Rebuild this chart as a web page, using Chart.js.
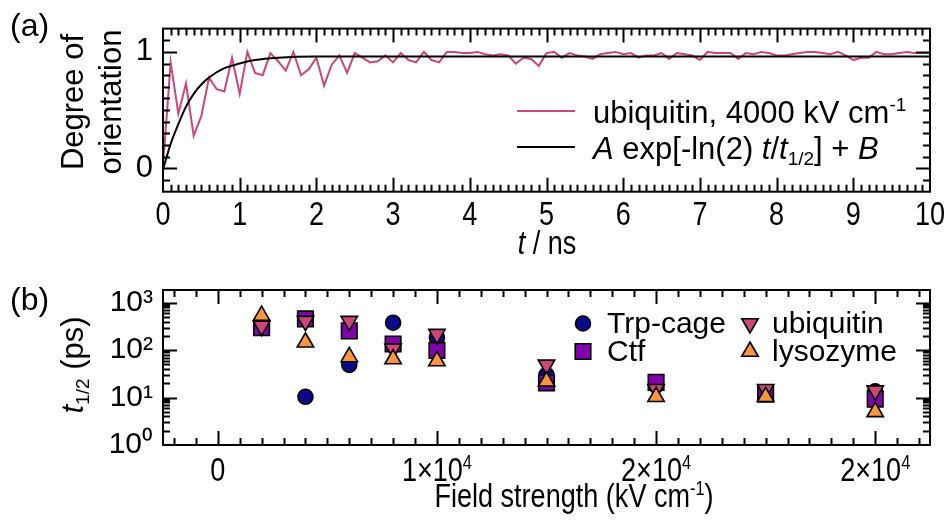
<!DOCTYPE html>
<html>
<head>
<meta charset="utf-8">
<script src="https://cdn.jsdelivr.net/npm/chart.js@4.4.0/dist/chart.umd.min.js"></script>
<style>
  body { margin: 0; background: #fff; }
  #fig { position: relative; width: 950px; height: 524px; }
  #fig canvas { position: absolute; left: 0; }
</style>
</head>
<body>
<div id="fig">
  <canvas id="panelA" width="950" height="262" style="top:0"></canvas>
  <canvas id="panelB" width="950" height="262" style="top:262px"></canvas>
</div>
<script>
// ---- (a) degree of orientation, one frame every 0.1 ns
const orientStep = 0.1;
const orientation = [
  0.02, 0.91, 0.47, 0.73, 0.28, 0.45, 0.78, 0.68, 0.66, 0.95,
  0.64, 1.00, 0.82, 0.80, 0.99, 0.92, 0.84, 1.00, 0.80, 0.85,
  0.95, 0.71, 0.89, 0.97, 0.82, 0.99, 0.95, 0.91, 0.92, 0.97,
  0.91, 0.99, 0.93, 0.91, 1.00, 0.93, 0.91, 1.00, 1.00, 0.99,
  0.99, 1.00, 0.98, 0.97, 0.98, 0.97, 0.90, 0.95, 0.94, 0.88,
  0.99, 1.00, 0.95, 0.99, 0.97, 0.96, 0.94, 0.98, 0.99, 1.00,
  0.98, 0.99, 0.95, 0.97, 0.97, 0.99, 0.94, 0.99, 0.98, 0.97,
  0.93, 1.00, 0.99, 0.99, 0.99, 0.94, 0.99, 0.98, 1.00, 0.99,
  0.97, 0.97, 0.98, 0.99, 1.00, 1.00, 0.99, 0.98, 1.00, 0.97,
  0.93, 0.95, 0.95, 1.00, 0.98, 0.98, 0.99, 1.00, 0.99, 0.99,
  0.99
];
// fitted curve
const fitTime  = [0, 0.1, 0.2, 0.3, 0.4, 0.5, 0.6, 0.8, 1.0, 1.2, 1.5, 2, 3, 10];
const fitValue = [-0.01, 0.21, 0.38, 0.53, 0.64, 0.72, 0.78, 0.86, 0.90, 0.93, 0.95, 0.96, 0.96, 0.96];

// ---- (b) half-life vs field strength
const fieldStrength = [2000, 4000, 6000, 8000, 10000, 15000, 20000, 25000, 30000];
const trpCage   = [null, 10.4, 49, 380, 186, 30, 18, 13, 13.5];
const ctf       = [297, 456, 255, 135, 99, 20.5, 21, 11.8, 9.3];
const ubiquitin = [323, 410, 410, 107, 218, 49, 15, 15, 14];
const lysozyme  = [535, 147, 72, 65, 59, 22, 10.4, 10.4, 5];

// tick labels
const xTicksA = [0, 1, 2, 3, 4, 5, 6, 7, 8, 9, 10];
const yTicksA = { 0: '0', 1: '1' };
const xTickValuesB = [0, 10000, 20000, 30000];
const xTickMantB = ['0', '1', '2', '2'];   // shown as m×10^4 (last label reads 2×10^4 in the source)
const yTicksB = { 1: '10⁰', 10: '10¹', 100: '10²', 1000: '10³' };

const PLASMA = { navy: '#0d0887', purple: '#7e03a8', pink: '#cc4778', orange: '#f89540' };
const SANS = "'Liberation Sans', Arial, sans-serif";
const NARROW_SX = 0.82; // narrow face faked by squeezing Liberation Sans

// mixed italic / sub / sup text
function drawRich(ctx, parts, x, y, o) {
  ctx.save();
  ctx.translate(x, y);
  if (o.rotate) ctx.rotate(o.rotate);
  if (o.sx) ctx.scale(o.sx, 1);
  ctx.textBaseline = 'alphabetic';
  ctx.textAlign = 'left';
  ctx.fillStyle = '#000';
  const fnt = p => (p.i ? 'italic ' : '') + ((p.sub || p.sup) ? Math.round(o.size * 0.62) : o.size) + 'px ' + SANS;
  let w = 0;
  parts.forEach(p => { ctx.font = fnt(p); w += ctx.measureText(p.t).width; });
  let cx = o.align === 'center' ? -w / 2 : (o.align === 'right' ? -w : 0);
  parts.forEach(p => {
    ctx.font = fnt(p);
    const dy = p.sup ? -o.size * 0.36 : (p.sub ? o.size * 0.2 : 0);
    ctx.fillText(p.t, cx, dy);
    cx += ctx.measureText(p.t).width;
  });
  ctx.restore();
}

// inward ticks on all four sides + box + narrow x labels
const frameTicks = {
  id: 'frameTicks',
  afterDatasetsDraw(chart, args, opts) {
    const { ctx, chartArea: a, scales } = chart;
    ctx.save();
    ctx.strokeStyle = '#000';
    ctx.lineWidth = 2;
    ctx.beginPath();
    opts.x.forEach(t => {
      const px = Math.round(scales.x.getPixelForValue(t.v)) + 0.5;
      if (px < a.left + 1 || px > a.right - 1) return;
      const len = t.major ? 14 : 7;
      ctx.moveTo(px, a.bottom); ctx.lineTo(px, a.bottom - len);
      ctx.moveTo(px, a.top); ctx.lineTo(px, a.top + len);
    });
    opts.y.forEach(t => {
      const py = Math.round(scales.y.getPixelForValue(t.v)) + 0.5;
      if (py < a.top + 1 || py > a.bottom - 1) return;
      const len = t.major ? 14 : 7;
      ctx.moveTo(a.left, py); ctx.lineTo(a.left + len, py);
      ctx.moveTo(a.right, py); ctx.lineTo(a.right - len, py);
    });
    ctx.stroke();
    ctx.strokeRect(a.left, a.top, a.right - a.left, a.bottom - a.top);
    ctx.restore();
    (opts.xLabels || []).forEach(l => {
      drawRich(ctx, l.parts, scales.x.getPixelForValue(l.v), a.bottom + opts.labelDrop, { size: 33, sx: NARROW_SX, align: 'center' });
    });
  }
};

// free text: panel letters, axis titles, legends
const texts = {
  id: 'texts',
  afterDraw(chart, args, opts) {
    const ctx = chart.ctx;
    opts.items.forEach(it => drawRich(ctx, it.parts, it.x, it.y, it));
    (opts.lines || []).forEach(l => {
      const ds = chart.data.datasets[l.ds];
      ctx.save();
      ctx.strokeStyle = ds.borderColor;
      ctx.lineWidth = ds.borderWidth;
      ctx.beginPath(); ctx.moveTo(l.x0, l.y); ctx.lineTo(l.x1, l.y); ctx.stroke();
      ctx.restore();
    });
    (opts.markers || []).forEach(m => {
      const ds = chart.data.datasets[m.ds];
      ctx.save();
      ctx.fillStyle = ds.backgroundColor;
      ctx.strokeStyle = ds.borderColor;
      ctx.lineWidth = ds.borderWidth;
      Chart.helpers.drawPoint(ctx, { pointStyle: ds.pointStyle, rotation: ds.rotation || 0, radius: ds.pointRadius, borderWidth: ds.borderWidth }, m.x, m.y);
      ctx.restore();
    });
  }
};

// tick lists for the frame plugin
function linTicks(min, max, minor, major) {
  const out = [];
  for (let k = Math.ceil(min / minor - 1e-9); k * minor <= max + 1e-9; k++) {
    const v = k * minor;
    out.push({ v, major: Math.abs(v / major - Math.round(v / major)) < 1e-6 });
  }
  return out;
}
function logTicks(min, max) {
  const out = [];
  for (let e = Math.floor(Math.log10(min)); Math.pow(10, e) <= max; e++) {
    for (let m = 1; m < 10; m++) {
      const v = m * Math.pow(10, e);
      if (v >= min && v <= max) out.push({ v, major: m === 1 });
    }
  }
  return out;
}

// ---------------- panel (a)
const xMinA = 0, xMaxA = 10, yMinA = -0.2, yMaxA = 1.2;
new Chart(document.getElementById('panelA'), {
  type: 'line',
  data: {
    datasets: [
      {
        label: 'fit',
        data: fitTime.map((t, i) => ({ x: t, y: fitValue[i] })),
        borderColor: '#000', borderWidth: 2, pointRadius: 0,
        cubicInterpolationMode: 'monotone', order: 0
      },
      {
        label: 'ubiquitin, 4000 kV cm-1',
        data: orientation.map((v, i) => ({ x: i * orientStep, y: v })),
        borderColor: PLASMA.pink, borderWidth: 2, pointRadius: 0, order: 1
      }
    ]
  },
  options: {
    responsive: false, animation: false, devicePixelRatio: 1,
    layout: { padding: { left: 0, top: 13.3, right: 20, bottom: 0 } },
    plugins: {
      legend: { display: false }, tooltip: { enabled: false },
      frameTicks: {
        x: linTicks(xMinA, xMaxA, 0.1, 1), y: linTicks(yMinA, yMaxA, 0.1, 1),
        xLabels: xTicksA.map(v => ({ v, parts: [{ t: String(v) }] })), labelDrop: 33.5
      },
      texts: {
        items: [
          { parts: [{ t: '(a)' }], x: 10, y: 36, size: 32 },
          { parts: [{ t: 'Degree of' }], x: 83, y: 102, size: 31, align: 'center', rotate: -Math.PI / 2 },
          { parts: [{ t: 'orientation' }], x: 121, y: 102, size: 31, align: 'center', rotate: -Math.PI / 2 },
          { parts: [{ t: 't', i: true }, { t: ' / ns' }], x: 547, y: 254, size: 33, sx: NARROW_SX, align: 'center' },
          { parts: [{ t: 'ubiquitin, 4000 kV cm' }, { t: '-1', sup: true }], x: 593, y: 122.5, size: 31 },
          { parts: [{ t: 'A', i: true }, { t: ' exp[-ln(2) ' }, { t: 't', i: true }, { t: '/' }, { t: 't', i: true }, { t: '1/2', sub: true }, { t: '] + ' }, { t: 'B', i: true }], x: 593, y: 158.5, size: 31 }
        ],
        lines: [
          { ds: 1, x0: 517, x1: 575, y: 111 },
          { ds: 0, x0: 517, x1: 575, y: 147 }
        ]
      }
    },
    scales: {
      x: {
        type: 'linear', min: xMinA, max: xMaxA,
        afterFit: s => { s.height = 262 - 191.7; },
        ticks: { display: false },
        grid: { display: false, drawTicks: false }, border: { display: false }
      },
      y: {
        type: 'linear', min: yMinA, max: yMaxA,
        afterFit: s => { s.width = 163; },
        afterBuildTicks: s => { s.ticks = Object.keys(yTicksA).map(v => ({ value: +v })); },
        ticks: { padding: 10, color: '#000', font: { family: SANS, size: 31 }, callback: v => yTicksA[v] ?? '' },
        grid: { display: false, drawTicks: false }, border: { display: false }
      }
    }
  },
  plugins: [frameTicks, texts]
});

// ---------------- panel (b)
const xMinB = -2500, xMaxB = 32500, yMinB = 1, yMaxB = 1860;
const mk = (label, values, color, style, radius, rotation, order) => ({
  label,
  data: fieldStrength.map((f, i) => ({ x: f, y: values[i] })).filter(p => p.y !== null),
  backgroundColor: color, borderColor: '#000', borderWidth: 1.6,
  pointStyle: style, pointRadius: radius, rotation, order, showLine: false
});
new Chart(document.getElementById('panelB'), {
  type: 'scatter',
  data: {
    datasets: [
      mk('Trp-cage', trpCage, PLASMA.navy, 'circle', 7.5, 0, 4),
      mk('Ctf', ctf, PLASMA.purple, 'rect', 11, 0, 3),
      mk('ubiquitin', ubiquitin, PLASMA.pink, 'triangle', 9.5, 180, 2),
      mk('lysozyme', lysozyme, PLASMA.orange, 'triangle', 9.5, 0, 1)
    ]
  },
  options: {
    responsive: false, animation: false, devicePixelRatio: 1,
    layout: { padding: { left: 0, top: 23.7, right: 20, bottom: 0 } },
    plugins: {
      legend: { display: false }, tooltip: { enabled: false },
      frameTicks: {
        x: linTicks(xMinB, xMaxB, 1000, 10000), y: logTicks(yMinB, yMaxB),
        xLabels: xTickValuesB.map((v, i) => ({
          v, parts: v === 0 ? [{ t: '0' }] : [{ t: xTickMantB[i] + '×10' }, { t: '4', sup: true }]
        })),
        labelDrop: 36
      },
      texts: {
        items: [
          { parts: [{ t: '(b)' }], x: 10, y: 48, size: 32 },
          { parts: [{ t: 't', i: true }, { t: '1/2', sub: true }, { t: ' (ps)' }], x: 83, y: 103, size: 31, align: 'center', rotate: -Math.PI / 2 },
          { parts: [{ t: 'Field strength (kV cm' }, { t: '-1', sup: true }, { t: ')' }], x: 574, y: 245, size: 33, sx: NARROW_SX, align: 'center' },
          { parts: [{ t: 'Trp-cage' }], x: 607, y: 71, size: 30 },
          { parts: [{ t: 'Ctf' }], x: 607, y: 99, size: 30 },
          { parts: [{ t: 'ubiquitin' }], x: 772, y: 71, size: 30 },
          { parts: [{ t: 'lysozyme' }], x: 772, y: 99, size: 30 }
        ],
        markers: [
          { ds: 0, x: 583, y: 61.5 },
          { ds: 1, x: 583, y: 89.5 },
          { ds: 2, x: 750, y: 61.5 },
          { ds: 3, x: 750, y: 89.5 }
        ]
      }
    },
    scales: {
      x: {
        type: 'linear', min: xMinB, max: xMaxB,
        afterFit: s => { s.height = 262 - 183; },
        ticks: { display: false },
        grid: { display: false, drawTicks: false }, border: { display: false }
      },
      y: {
        type: 'logarithmic', min: yMinB, max: yMaxB,
        afterFit: s => { s.width = 163; },
        afterBuildTicks: s => { s.ticks = Object.keys(yTicksB).map(v => ({ value: +v })); },
        ticks: { padding: 10, color: '#000', font: { family: SANS, size: 30 }, callback: v => yTicksB[v] ?? '' },
        grid: { display: false, drawTicks: false }, border: { display: false }
      }
    }
  },
  plugins: [frameTicks, texts]
});
</script>
</body>
</html>
